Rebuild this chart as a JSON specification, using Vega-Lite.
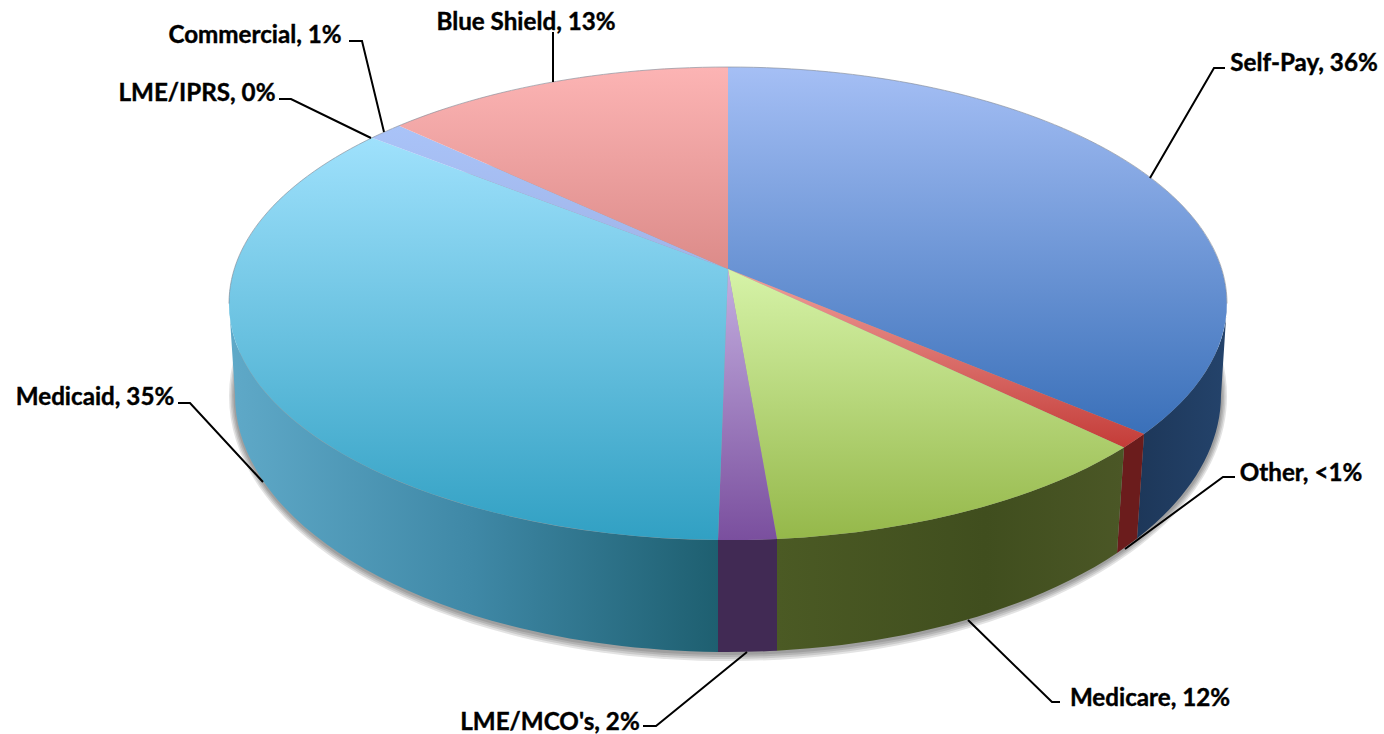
{
"$schema":"https://vega.github.io/schema/vega-lite/v6.json",
"width":1384,"height":734,"padding":0,"autosize":{"type":"none"},
"background":"white",
"config":{"view":{"stroke":null}},
"datasets":{"payers":[
{"payer":"Self-Pay","share":36,"label":"Self-Pay, 36%"},
{"payer":"Other","share":0.8,"label":"Other, <1%"},
{"payer":"Medicare","share":12,"label":"Medicare, 12%"},
{"payer":"LME/MCO's","share":2,"label":"LME/MCO's, 2%"},
{"payer":"Medicaid","share":35,"label":"Medicaid, 35%"},
{"payer":"LME/IPRS","share":0.2,"label":"LME/IPRS, 0%"},
{"payer":"Commercial","share":1,"label":"Commercial, 1%"},
{"payer":"Blue Shield","share":13,"label":"Blue Shield, 13%"}
]},
"data":{"name":"payers"},
"layer":[
{"transform":[{"filter":{"field":"payer","equal":"Self-Pay"}}],"mark":{"type":"point","filled":true,"opacity":0.11,"fill":"#000000","strokeWidth":0,"size":4,"shape":"M-463 29A499 265 0 1 0 535 29A499 265 0 1 0 -463 29Z"}},
{"transform":[{"filter":{"field":"payer","equal":"Self-Pay"}}],"mark":{"type":"point","filled":true,"opacity":0.11,"fill":"#000000","strokeWidth":0,"size":4,"shape":"M-461.5 29A497.5 263 0 1 0 533.5 29A497.5 263 0 1 0 -461.5 29Z"}},
{"transform":[{"filter":{"field":"payer","equal":"Self-Pay"}}],"mark":{"type":"point","filled":true,"opacity":0.11,"fill":"#000000","strokeWidth":0,"size":4,"shape":"M-460 29A496 261 0 1 0 532 29A496 261 0 1 0 -460 29Z"}},
{"transform":[{"filter":{"field":"payer","equal":"Self-Pay"}}],"mark":{"type":"point","filled":true,"opacity":0.11,"fill":"#000000","strokeWidth":0,"size":4,"shape":"M-458.5 29A494.5 259 0 1 0 530.5 29A494.5 259 0 1 0 -458.5 29Z"}},

{"transform":[{"filter":{"field":"payer","equal":"Self-Pay"}}],"mark":{"type":"point","filled":true,"opacity":1,"strokeWidth":0,"size":4,"shape":"M535 -63.5A499 236.5 0 0 1 452 67L445 171.5A493 257 0 0 0 529 28Z","fill":{"gradient":"linear","x1":0,"y1":0,"x2":1,"y2":0,"stops":[{"offset":0,"color":"#1d3759"},{"offset":1,"color":"#24436b"}]}}},
{"transform":[{"filter":{"field":"payer","equal":"Other"}}],"mark":{"type":"point","filled":true,"opacity":1,"strokeWidth":0,"size":4,"shape":"M452 67A499 236.5 0 0 1 432 80.4L425 185.9A493 257 0 0 0 445 171.5Z","fill":"#6b1c1c"}},
{"transform":[{"filter":{"field":"payer","equal":"Medicare"}}],"mark":{"type":"point","filled":true,"opacity":1,"strokeWidth":0,"size":4,"shape":"M432 80.4A499 236.5 0 0 1 85 172L85 283.7A493 257 0 0 0 425 185.9Z","fill":{"gradient":"linear","x1":0,"y1":0,"x2":1,"y2":0,"stops":[{"offset":0,"color":"#4b5a24"},{"offset":0.6,"color":"#404e1e"},{"offset":1,"color":"#4b5726"}]}}},
{"transform":[{"filter":{"field":"payer","equal":"LME/MCO's"}}],"mark":{"type":"point","filled":true,"opacity":1,"strokeWidth":0,"size":4,"shape":"M85 172A499 236.5 0 0 1 26 173L26 285A493 257 0 0 0 85 283.7Z","fill":"#412a54"}},
{"transform":[{"filter":{"field":"payer","equal":"Medicaid"}}],"mark":{"type":"point","filled":true,"opacity":1,"strokeWidth":0,"size":4,"shape":"M26 173A499 236.5 0 0 1 -463 -63.5L-457 28A493 257 0 0 0 26 285Z","fill":{"gradient":"linear","x1":0,"y1":0,"x2":1,"y2":0,"stops":[{"offset":0,"color":"#5fa9c8"},{"offset":0.5,"color":"#3f88a6"},{"offset":1,"color":"#1e5f70"}]}}},

{"transform":[{"filter":{"field":"payer","equal":"Self-Pay"}}],"mark":{"type":"point","filled":true,"opacity":1,"strokeWidth":0,"size":4,"shape":"M36 -98L36 -300A499 236.5 0 0 1 452 67Z","fill":{"gradient":"linear","x1":0,"y1":0,"x2":0,"y2":1,"stops":[{"offset":0,"color":"#a5bff5"},{"offset":1,"color":"#3a70b9"}]}}},
{"transform":[{"filter":{"field":"payer","equal":"Other"}}],"mark":{"type":"point","filled":true,"opacity":1,"strokeWidth":0,"size":4,"shape":"M36 -98L452 67A499 236.5 0 0 1 432 80.4Z","fill":{"gradient":"linear","x1":0,"y1":0,"x2":0,"y2":1,"stops":[{"offset":0,"color":"#f0a09c"},{"offset":1,"color":"#c43c38"}]}}},
{"transform":[{"filter":{"field":"payer","equal":"Medicare"}}],"mark":{"type":"point","filled":true,"opacity":1,"strokeWidth":0,"size":4,"shape":"M36 -98L432 80.4A499 236.5 0 0 1 85 172Z","fill":{"gradient":"linear","x1":0,"y1":0,"x2":0,"y2":1,"stops":[{"offset":0,"color":"#d6f3a8"},{"offset":1,"color":"#95b84a"}]}}},
{"transform":[{"filter":{"field":"payer","equal":"LME/MCO's"}}],"mark":{"type":"point","filled":true,"opacity":1,"strokeWidth":0,"size":4,"shape":"M36 -98L85 172A499 236.5 0 0 1 26 173Z","fill":{"gradient":"linear","x1":0,"y1":0,"x2":0,"y2":1,"stops":[{"offset":0,"color":"#c4afe0"},{"offset":1,"color":"#7a4f9e"}]}}},
{"transform":[{"filter":{"field":"payer","equal":"Medicaid"}}],"mark":{"type":"point","filled":true,"opacity":1,"strokeWidth":0,"size":4,"shape":"M36 -98L26 173A499 236.5 0 0 1 -320 -229.2Z","fill":{"gradient":"linear","x1":0,"y1":0,"x2":0,"y2":1,"stops":[{"offset":0,"color":"#9fe1fc"},{"offset":1,"color":"#31a0c3"}]}}},
{"transform":[{"filter":{"field":"payer","equal":"Commercial"}}],"mark":{"type":"point","filled":true,"opacity":1,"strokeWidth":0,"size":4,"shape":"M36 -98L-320 -229.2A499 236.5 0 0 1 -293 -241.3Z","fill":{"gradient":"linear","x1":0,"y1":0,"x2":0,"y2":1,"stops":[{"offset":0,"color":"#a9c3f8"},{"offset":1,"color":"#a0b4e8"}]}}},
{"transform":[{"filter":{"field":"payer","equal":"Blue Shield"}}],"mark":{"type":"point","filled":true,"opacity":1,"strokeWidth":0,"size":4,"shape":"M36 -98L-293 -241.3A499 236.5 0 0 1 36 -300Z","fill":{"gradient":"linear","x1":0,"y1":0,"x2":0,"y2":1,"stops":[{"offset":0,"color":"#fcb4b4"},{"offset":1,"color":"#dc8b89"}]}}},

{"transform":[{"filter":{"field":"payer","equal":"Self-Pay"}}],"mark":{"type":"point","filled":false,"opacity":0.6,"stroke":"#7f8794","strokeWidth":1,"size":4,"shape":"M-463 -63.5A499 236.5 0 0 1 535 -63.5"}},

{"transform":[{"filter":{"field":"payer","equal":"Self-Pay"}}],"mark":{"type":"point","filled":false,"opacity":1,"stroke":"#000000","strokeWidth":2,"size":4,"shape":"M458 -189L522 -299L533 -299"}},
{"transform":[{"filter":{"field":"payer","equal":"Other"}}],"mark":{"type":"point","filled":false,"opacity":1,"stroke":"#000000","strokeWidth":2,"size":4,"shape":"M433 182L531 110L543 110"}},
{"transform":[{"filter":{"field":"payer","equal":"Medicare"}}],"mark":{"type":"point","filled":false,"opacity":1,"stroke":"#000000","strokeWidth":2,"size":4,"shape":"M276 253L360 335L368 335"}},
{"transform":[{"filter":{"field":"payer","equal":"LME/MCO's"}}],"mark":{"type":"point","filled":false,"opacity":1,"stroke":"#000000","strokeWidth":2,"size":4,"shape":"M55 285L-36 359L-49 359"}},
{"transform":[{"filter":{"field":"payer","equal":"Medicaid"}}],"mark":{"type":"point","filled":false,"opacity":1,"stroke":"#000000","strokeWidth":2,"size":4,"shape":"M-429 115L-502 36L-514 36"}},
{"transform":[{"filter":{"field":"payer","equal":"LME/IPRS"}}],"mark":{"type":"point","filled":false,"opacity":1,"stroke":"#000000","strokeWidth":2,"size":4,"shape":"M-321 -229L-401 -268L-413 -268"}},
{"transform":[{"filter":{"field":"payer","equal":"Commercial"}}],"mark":{"type":"point","filled":false,"opacity":1,"stroke":"#000000","strokeWidth":2,"size":4,"shape":"M-308 -235L-330 -326L-343 -326"}},
{"transform":[{"filter":{"field":"payer","equal":"Blue Shield"}}],"mark":{"type":"point","filled":false,"opacity":1,"stroke":"#000000","strokeWidth":2,"size":4,"shape":"M-139 -285L-139 -335"}},

{"transform":[{"filter":{"field":"payer","equal":"Self-Pay"}}],"mark":{"type":"text","font":"Lato","fontWeight":"bold","fontSize":24.2,"color":"#000000","stroke":"#000000","strokeWidth":0.4,"align":"center","baseline":"middle","dx":612,"dy":-303},"encoding":{"text":{"field":"label"}}},
{"transform":[{"filter":{"field":"payer","equal":"Other"}}],"mark":{"type":"text","font":"Lato","fontWeight":"bold","fontSize":24.2,"color":"#000000","stroke":"#000000","strokeWidth":0.4,"align":"center","baseline":"middle","dx":609,"dy":107},"encoding":{"text":{"field":"label"}}},
{"transform":[{"filter":{"field":"payer","equal":"Medicare"}}],"mark":{"type":"text","font":"Lato","fontWeight":"bold","fontSize":24.2,"color":"#000000","stroke":"#000000","strokeWidth":0.4,"align":"center","baseline":"middle","dx":458,"dy":332},"encoding":{"text":{"field":"label"}}},
{"transform":[{"filter":{"field":"payer","equal":"LME/MCO's"}}],"mark":{"type":"text","font":"Lato","fontWeight":"bold","fontSize":24.2,"color":"#000000","stroke":"#000000","strokeWidth":0.4,"align":"center","baseline":"middle","dx":-142,"dy":356},"encoding":{"text":{"field":"label"}}},
{"transform":[{"filter":{"field":"payer","equal":"Medicaid"}}],"mark":{"type":"text","font":"Lato","fontWeight":"bold","fontSize":24.2,"color":"#000000","stroke":"#000000","strokeWidth":0.4,"align":"center","baseline":"middle","dx":-597,"dy":31},"encoding":{"text":{"field":"label"}}},
{"transform":[{"filter":{"field":"payer","equal":"LME/IPRS"}}],"mark":{"type":"text","font":"Lato","fontWeight":"bold","fontSize":24.2,"color":"#000000","stroke":"#000000","strokeWidth":0.4,"align":"center","baseline":"middle","dx":-495,"dy":-273},"encoding":{"text":{"field":"label"}}},
{"transform":[{"filter":{"field":"payer","equal":"Commercial"}}],"mark":{"type":"text","font":"Lato","fontWeight":"bold","fontSize":24.2,"color":"#000000","stroke":"#000000","strokeWidth":0.4,"align":"center","baseline":"middle","dx":-437,"dy":-331},"encoding":{"text":{"field":"label"}}},
{"transform":[{"filter":{"field":"payer","equal":"Blue Shield"}}],"mark":{"type":"text","font":"Lato","fontWeight":"bold","fontSize":24.2,"color":"#000000","stroke":"#000000","strokeWidth":0.4,"align":"center","baseline":"middle","dx":-166,"dy":-344},"encoding":{"text":{"field":"label"}}}
]
}
